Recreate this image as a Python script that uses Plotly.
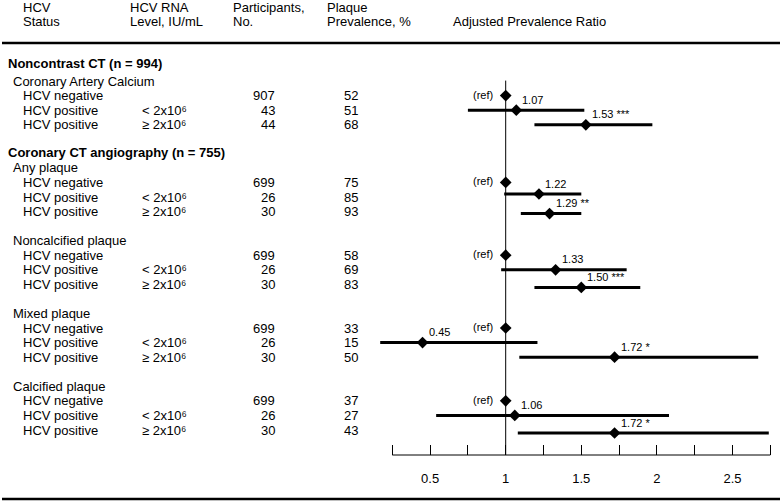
import plotly.graph_objects as go

W, H = 782, 502

# ---------------- data ----------------
sections = ["Noncontrast CT (n = 994)", "Coronary CT angiography (n = 755)"]
outcomes = ["Coronary Artery Calcium", "Any plaque", "Noncalcified plaque",
            "Mixed plaque", "Calcified plaque"]
outcome_section = [0, 1, 1, 1, 1]
hcv_status = ["HCV negative", "HCV positive", "HCV positive"]
rna_level = ["", "< 2x10\u2076", "\u2265 2x10\u2076"]
participants = [[907, 43, 44], [699, 26, 30], [699, 26, 30], [699, 26, 30], [699, 26, 30]]
prevalence = [[52, 51, 68], [75, 85, 93], [58, 69, 83], [33, 15, 50], [37, 27, 43]]
ratio = [[1.00, 1.07, 1.53], [1.00, 1.22, 1.29], [1.00, 1.33, 1.50],
         [1.00, 0.45, 1.72], [1.00, 1.06, 1.72]]
ci_low = [[None, 0.75, 1.19], [None, 0.99, 1.10], [None, 0.97, 1.19],
          [None, 0.17, 1.09], [None, 0.54, 1.08]]
ci_high = [[None, 1.52, 1.97], [None, 1.50, 1.50], [None, 1.80, 1.89],
           [None, 1.21, 2.67], [None, 2.08, 2.74]]
stars = [["", "", "***"], ["", "", "**"], ["", "", "***"], ["", "", "*"], ["", "", "*"]]
header_cols = [["HCV", "Status"], ["HCV RNA", "Level, IU/mL"], ["Participants,", "No."],
               ["Plaque", "Prevalence, %"], ["Adjusted Prevalence Ratio"]]
major_ticks = [0.5, 1.0, 1.5, 2.0, 2.5]
major_labels = ["0.5", "1", "1.5", "2", "2.5"]
minor_ticks = [0.25, 0.75, 1.25, 1.75, 2.25, 2.75]

# ---------------- layout helpers ----------------
FONT = "Liberation Sans, Arial, Helvetica, sans-serif"
ROW = 14.6
col_x = {"status": 21, "rna": 140, "n_right": 277, "prev_right": 360}
header_x = [21, 128, 231, 325, 451]
header_line_y = [7, 21.5]
# small vertical nudges of forest-plot rows (pixels), as in the original figure
forest_nudge = {(1, 1): -3, (1, 2): 2, (2, 2): 3, (4, 2): 3}

# compute vertical positions (pixels from top)
y = 63.0
lines = []
prev_sec = None
for i, name in enumerate(outcomes):
    s = outcome_section[i]
    if s != prev_sec:
        if prev_sec is not None:
            y += 28
        lines.append(("section", sections[s], y))
        y += 18 if prev_sec is None else 15
        prev_sec = s
    else:
        y += 29
    lines.append(("outcome", name, y))
    for j in range(3):
        y += ROW
        lines.append(("row", (i, j), y))

row_y = {}
for kind, payload, yy in lines:
    if kind == "row":
        row_y[payload] = yy

annotations = []


def txt(x, yy, text, anchor="left", size=13, xref="paper", xshift=0):
    annotations.append(dict(
        x=x / W if xref == "paper" else x, y=yy, xref=xref, yref="y",
        text=text, showarrow=False, xanchor=anchor, yanchor="middle",
        xshift=xshift, font=dict(size=size, family=FONT, color="black"),
    ))


# header
for k, parts in enumerate(header_cols):
    if len(parts) == 2:
        txt(header_x[k], header_line_y[0], parts[0])
        txt(header_x[k], header_line_y[1], parts[1])
    else:
        txt(header_x[k], header_line_y[1], parts[0])

for kind, payload, yy in lines:
    if kind == "section":
        txt(6, yy, "<b>%s</b>" % payload)
    elif kind == "outcome":
        txt(11, yy, payload)
    else:
        i, j = payload
        txt(col_x["status"], yy, hcv_status[j])
        if rna_level[j]:
            txt(col_x["rna"], yy, rna_level[j])
        txt(col_x["n_right"], yy, str(participants[i][j]), anchor="right")
        txt(col_x["prev_right"], yy, str(prevalence[i][j]), anchor="right")
        fy = yy + forest_nudge.get((i, j), 0)
        if ci_low[i][j] is None:
            txt(ratio[i][j], fy - 1, "(ref)", anchor="right", size=11, xref="x", xshift=-11)
        else:
            lab = "%.2f" % ratio[i][j]
            if stars[i][j]:
                lab += " " + stars[i][j]
            txt(ratio[i][j], fy - 10.5, lab, anchor="left", size=11, xref="x", xshift=4)

# ---------------- traces ----------------
ref_x, ref_y, est_x, est_y, plus, minus = [], [], [], [], [], []
for i in range(len(outcomes)):
    for j in range(3):
        fy = row_y[(i, j)] + forest_nudge.get((i, j), 0)
        if ci_low[i][j] is None:
            ref_x.append(ratio[i][j])
            ref_y.append(fy)
        else:
            est_x.append(ratio[i][j])
            est_y.append(fy)
            plus.append(ci_high[i][j] - ratio[i][j])
            minus.append(ratio[i][j] - ci_low[i][j])

fig = go.Figure()
fig.add_trace(go.Scatter(
    x=est_x, y=est_y, mode="markers", cliponaxis=False,
    marker=dict(symbol="diamond", size=9, color="black"),
    error_x=dict(type="data", symmetric=False, array=plus, arrayminus=minus,
                 thickness=3, width=0, color="black"),
    showlegend=False, hoverinfo="skip",
))
fig.add_trace(go.Scatter(
    x=ref_x, y=ref_y, mode="markers", cliponaxis=False,
    marker=dict(symbol="diamond", size=9, color="black"),
    showlegend=False, hoverinfo="skip",
))

AXIS_Y = 455
first_row_y = min(row_y.values())
all_ticks = sorted(major_ticks + minor_ticks)
shapes = [
    dict(type="line", xref="paper", yref="y", x0=2 / W, x1=780 / W, y0=43, y1=43,
         line=dict(color="black", width=2.5)),
    dict(type="line", xref="paper", yref="y", x0=2 / W, x1=780 / W, y0=499, y1=499,
         line=dict(color="black", width=2.5)),
    dict(type="line", xref="x", yref="y", x0=1, x1=1, y0=first_row_y - 15, y1=AXIS_Y,
         line=dict(color="black", width=1), layer="below"),
    dict(type="line", xref="x", yref="y", x0=all_ticks[0], x1=all_ticks[-1],
         y0=AXIS_Y, y1=AXIS_Y, line=dict(color="black", width=1)),
]

# x mapping: 1 -> 505.7 px, 151.2 px per unit
x_lo, x_hi = 0.1, 2.8
px1, ppu = 505.7, 151.2
dom = [(px1 + (x_lo - 1) * ppu) / W, (px1 + (x_hi - 1) * ppu) / W]

fig.update_layout(
    width=W, height=H, margin=dict(l=0, r=0, t=0, b=0),
    paper_bgcolor="white", plot_bgcolor="white",
    font=dict(family=FONT, size=13, color="black"),
    annotations=annotations, shapes=shapes,
    xaxis=dict(domain=dom, range=[x_lo, x_hi], anchor="free", position=1 - AXIS_Y / H,
               showline=False, showgrid=False, zeroline=False,
               tickmode="array", tickvals=major_ticks, ticktext=major_labels,
               ticks="inside", ticklen=10, tickwidth=1, tickcolor="black",
               minor=dict(tickmode="array", tickvals=minor_ticks, ticks="inside",
                          ticklen=10, tickwidth=1, tickcolor="black", showgrid=False),
               ticklabelstandoff=14, tickfont=dict(size=13, family=FONT, color="black")),
    yaxis=dict(domain=[0, 1], range=[H, 0], visible=False, showgrid=False, zeroline=False),
)

fig.write_html("out.html", config={"displayModeBar": False},
               post_script="document.body.style.margin='0';")
